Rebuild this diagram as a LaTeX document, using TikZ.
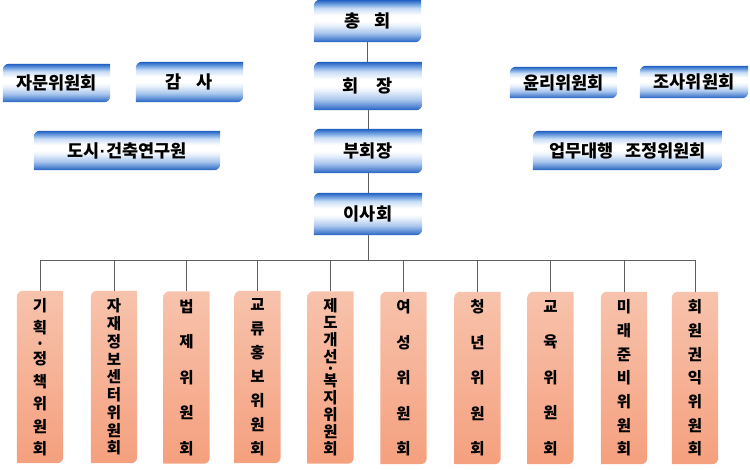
\documentclass[tikz,border=0pt]{standalone}
\usepackage{fontspec}
\newfontfamily\kr{Noto Sans CJK KR}
\newfontfamily\lat{Liberation Sans}
\usetikzlibrary{backgrounds}
\definecolor{bdark}{RGB}{30,95,195}
\definecolor{bmid}{RGB}{110,160,225}
\definecolor{blight}{RGB}{200,220,245}
\definecolor{otop}{RGB}{247,195,172}
\definecolor{obot}{RGB}{245,160,126}
\definecolor{lin}{RGB}{95,95,95}
\pgfdeclareverticalshading{blueshade}{100bp}{%
  color(0bp)=(bdark); color(25bp)=(bdark); color(28bp)=(bdark!80!white);
  color(36bp)=(bmid!60!white); color(45bp)=(blight!40!white);
  color(50bp)=(white); color(57bp)=(white); color(65bp)=(blight);
  color(70bp)=(bmid); color(73bp)=(bdark!85!white); color(75bp)=(bdark); color(100bp)=(bdark)}
\newcommand\dshape[3]{%
  \shade[#2] (#1.south west) -- ([yshift=-#3]#1.north west)
    arc[start angle=180,end angle=90,radius=#3] -- (#1.north east)
    -- ([yshift=#3]#1.south east) arc[start angle=0,end angle=-90,radius=#3] -- cycle;}
\newcommand\nolsl{\lineskiplimit=-100pt\relax}
\newcommand\ndot{{\lat\bfseries\kern0.5pt·\kern0.5pt}}
\tikzset{
  bbox/.style={minimum width=107pt, minimum height=42pt, inner sep=0pt,
    font={\kr\bfseries\fontsize{17.5}{20}\selectfont}},
  obox/.style={minimum width=46pt, minimum height=172pt, inner sep=0pt, align=center},
  ofont/.style={font={\kr\bfseries\fontsize{15.5}{#1}\selectfont\nolsl}},
  conn/.style={draw=lin, line width=0.9pt},
  bluefill/.style={shading=blueshade},
  orfill/.style={top color=otop, bottom color=obot}
}
\begin{document}
\begin{tikzpicture}[x=1pt,y=-1pt]
\useasboundingbox (0,0) rectangle (750,469);
% central column
\node[bbox, minimum width=107pt, minimum height=42pt] (ch) at (367.5,21) {총\hspace{14pt}회};
\node[bbox, minimum width=108pt, minimum height=48pt] (hj) at (368,86) {회\hspace{18pt}장};
\node[bbox, minimum width=108pt, minimum height=44pt] (bh) at (368,151) {부회장};
\node[bbox, minimum width=108pt, minimum height=42pt] (is) at (368,214) {이사회};
% side boxes
\node[bbox, minimum width=107pt, minimum height=38pt] (jm) at (56.5,83) {자문위원회};
\node[bbox, minimum width=107pt, minimum height=40pt] (gs) at (189.5,82) {감\hspace{15pt}사};
\node[bbox, minimum width=186pt, minimum height=39pt] (ds) at (127,150.5) {도시\ndot 건축연구원};
\node[bbox, minimum width=107pt, minimum height=31pt] (yr) at (563.5,82.5) {윤리위원회};
\node[bbox, minimum width=108pt, minimum height=32pt] (js) at (694,82) {조사위원회};
\node[bbox, minimum width=189pt, minimum height=39pt] (um) at (627.5,150.5) {업무대행\hspace{12pt}조정위원회};
% committees
\node[obox, ofont=22.5] (o1) at (40,377) {기\\획\\[-6.5pt]·\\[-7.5pt]정\\책\\위\\원\\회};
\node[obox, ofont=17.75] (o2) at (114,377) {자\\재\\정\\보\\센\\터\\위\\원\\회};
\node[obox, ofont=35.5] (o3) at (186.5,377.5) {법\\제\\위\\원\\회};
\node[obox, ofont=24] (o4) at (257.5,377) {교\\류\\홍\\보\\위\\원\\회};
\node[obox, ofont=17] (o5) at (330.5,377.5) {제\\도\\개\\선\\[-5pt]·\\[-5pt]복\\지\\위\\원\\회};
\node[obox, ofont=35.5] (o6) at (403.5,378) {여\\성\\위\\원\\회};
\node[obox, ofont=35.5] (o7) at (477.5,378) {청\\년\\위\\원\\회};
\node[obox, ofont=35.5] (o8) at (550.5,378) {교\\육\\위\\원\\회};
\node[obox, ofont=23.7] (o9) at (624,378) {미\\래\\준\\비\\위\\원\\회};
\node[obox, ofont=23.7] (o10) at (695,378) {회\\원\\권\\익\\위\\원\\회};
\coordinate (bus) at (368,260);
\begin{scope}[on background layer]
  \foreach \n in {ch,hj,bh,is,jm,gs,ds,yr,js,um}{\dshape{\n}{bluefill}{6pt}}
  \foreach \n in {o1,o2,o3,o4,o5,o6,o7,o8,o9,o10}{\dshape{\n}{orfill}{6pt}}
\end{scope}
% connectors
\draw[conn] (ch.south) -- (ch.south |- hj.north);
\draw[conn] (hj.south) -- (hj.south |- bh.north);
\draw[conn] (bh.south) -- (bh.south |- is.north);
\draw[conn] (is.south) -- (bus);
\draw[conn] (o1.north |- bus) -- (o10.north |- bus);
\foreach \n in {o1,o2,o3,o4,o5,o6,o7,o8,o9,o10}{\draw[conn] (\n.north |- bus) -- (\n.north);}
\end{tikzpicture}
\end{document}
